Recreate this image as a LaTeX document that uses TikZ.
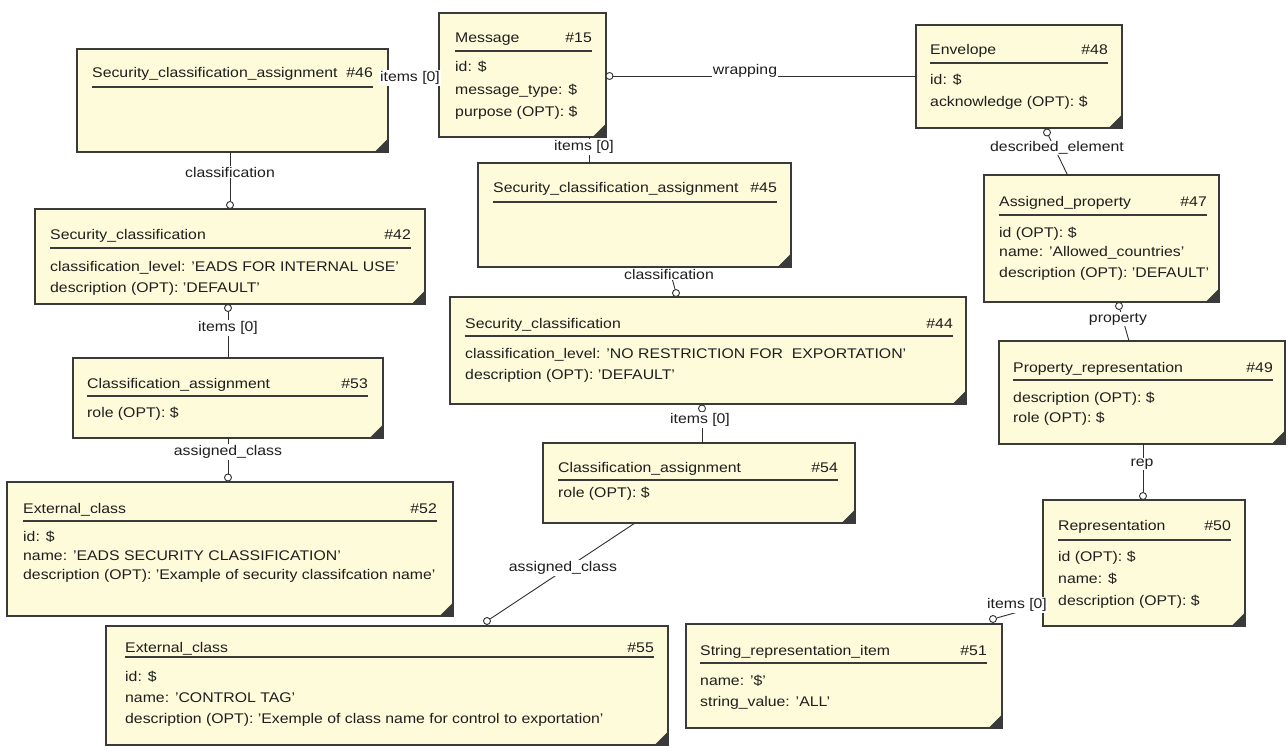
\documentclass[tikz,border=0pt]{standalone}
\usepackage{fontspec}
\setmainfont[FakeStretch=1.13]{Liberation Sans}
\definecolor{boxfill}{HTML}{FDFBDA}
\definecolor{boxline}{HTML}{3A3A3A}
\definecolor{txt}{HTML}{1E1E1E}
\definecolor{lnk}{HTML}{303030}
\newcommand\ertext{\fontsize{14}{16}\selectfont}
% entity box: name, left, top, right, bottom
\newcommand\entbox[5]{%
  \node[ent, minimum width={#4-#2}, minimum height={#5-#3}] (#1) at ({(#2+#4)/2},{(#3+#5)/2}) {};
  \fill[boxline] ([xshift=0.6pt,yshift=-0.6pt]#1.south east) -- ++(-14.6,0) -- ++(14.6,-14.6) -- cycle;
}
% title line: name, left x, baseline y, title, right x, number, underline y
\newcommand\enttitle[7]{%
  \node[ttl] (#1-t) at (#2,#3) {#4};
  \node[num] (#1-n) at (#5,#3) {#6};
  \draw[uline] (#2,#7) -- (#5,#7);
}
\tikzset{
  ent/.style={draw=boxline, fill=boxfill, line width=1.3pt, inner sep=0pt, outer sep=0pt},
  ttl/.style={anchor=base west, inner sep=0pt, text=txt, font=\ertext},
  num/.style={anchor=base east, inner sep=0pt, text=txt, font=\ertext},
  attr/.style={anchor=base west, inner sep=0pt, text=txt, font=\ertext},
  uline/.style={draw=boxline, line width=1.6pt},
  lbl/.style={fill=white, inner sep=1pt, text=txt, font=\ertext},
  knob/.style={circle, draw=lnk, fill=white, minimum size=7pt, inner sep=0pt, line width=0.9pt},
  link/.style={draw=lnk, line width=0.9pt}
}
\begin{document}
\begin{tikzpicture}[x=1pt,y=-1pt]
\useasboundingbox[fill=white] (0,0) rectangle (1288,746);

% ---------- entity boxes ----------
\entbox{e46}{77}{49}{388}{152}
\enttitle{e46}{92}{78}{Security\_classification\_assignment}{373}{\#46}{87}

\entbox{e15}{439}{13}{606}{137}
\enttitle{e15}{455}{43}{Message}{592}{\#15}{51}
\node[attr] (e15-a1) at (455,72) {id: \$};
\node[attr] (e15-a2) at (455,95) {message\_type: \$};
\node[attr] (e15-a3) at (455,117) {purpose (OPT): \$};

\entbox{e48}{916}{25}{1122}{128}
\enttitle{e48}{930}{55}{Envelope}{1108}{\#48}{63}
\node[attr] (e48-a1) at (930,85) {id: \$};
\node[attr] (e48-a2) at (930,107) {acknowledge (OPT): \$};

\entbox{e45}{478}{163}{791}{267}
\enttitle{e45}{493}{193}{Security\_classification\_assignment}{777}{\#45}{202}

\entbox{e42}{35}{209}{425}{304}
\enttitle{e42}{50}{240}{Security\_classification}{411}{\#42}{248}
\node[attr] (e42-a1) at (50,271) {classification\_level: 'EADS FOR INTERNAL USE'};
\node[attr] (e42-a2) at (50,292) {description (OPT): 'DEFAULT'};

\entbox{e53}{73}{358}{383}{438}
\enttitle{e53}{87}{388}{Classification\_assignment}{368}{\#53}{396}
\node[attr] (e53-a1) at (87,417) {role (OPT): \$};

\entbox{e52}{7}{482}{453}{616}
\enttitle{e52}{23}{513}{External\_class}{437}{\#52}{521}
\node[attr] (e52-a1) at (23,541) {id: \$};
\node[attr] (e52-a2) at (23,560) {name: 'EADS SECURITY CLASSIFICATION'};
\node[attr] (e52-a3) at (23,579) {description (OPT): 'Example of security classifcation name'};

\entbox{e44}{450}{297}{966}{404}
\enttitle{e44}{465}{328}{Security\_classification}{953}{\#44}{336}
\node[attr] (e44-a1) at (465,358) {classification\_level: 'NO RESTRICTION FOR\ \ EXPORTATION'};
\node[attr] (e44-a2) at (465,379) {description (OPT): 'DEFAULT'};

\entbox{e54}{543}{443}{855}{523}
\enttitle{e54}{558}{472}{Classification\_assignment}{838}{\#54}{480}
\node[attr] (e54-a1) at (558,497) {role (OPT): \$};

\entbox{e55}{106}{626}{668}{745}
\enttitle{e55}{125}{652}{External\_class}{654}{\#55}{657}
\node[attr] (e55-a1) at (125,681) {id: \$};
\node[attr] (e55-a2) at (125,702) {name: 'CONTROL TAG'};
\node[attr] (e55-a3) at (125,723) {description (OPT): 'Exemple of class name for control to exportation'};

\entbox{e51}{686}{624}{1002}{728}
\enttitle{e51}{700}{655}{String\_representation\_item}{987}{\#51}{663}
\node[attr] (e51-a1) at (700,685) {name: '\$'};
\node[attr] (e51-a2) at (700,706) {string\_value: 'ALL'};

\entbox{e50}{1043}{500}{1245}{626}
\enttitle{e50}{1058}{530}{Representation}{1231}{\#50}{540}
\node[attr] (e50-a1) at (1058,561) {id (OPT): \$};
\node[attr] (e50-a2) at (1058,583) {name: \$};
\node[attr] (e50-a3) at (1058,605) {description (OPT): \$};

\entbox{e47}{984}{175}{1219}{302}
\enttitle{e47}{999}{207}{Assigned\_property}{1207}{\#47}{215}
\node[attr] (e47-a1) at (999,237) {id (OPT): \$};
\node[attr] (e47-a2) at (999,257) {name: 'Allowed\_countries'};
\node[attr] (e47-a3) at (999,277) {description (OPT): 'DEFAULT'};

\entbox{e49}{999}{341}{1285}{444}
\enttitle{e49}{1013}{372}{Property\_representation}{1273}{\#49}{380}
\node[attr] (e49-a1) at (1013,402) {description (OPT): \$};
\node[attr] (e49-a2) at (1013,422) {role (OPT): \$};

% ---------- connectors ----------
% Security_classification_assignment #46 -- Message
\coordinate (r1) at (410,78);
\draw[link] (e46.east |- r1) -- (e15.west |- r1);
\node[lbl] (l1) at (r1) {items [0]};

% #46 -> Security_classification #42
\node[knob] (k42a) at (230,205) {};
\draw[link] (e46.south -| k42a) -- (k42a);
\node[lbl] (l2) at (230,172) {classification};

% #42 -> Classification_assignment #53
\node[knob] (k42b) at (228,308) {};
\draw[link] (k42b) -- (e53.north -| k42b);
\node[lbl] (l3) at (228,328) {items [0]};

% #53 -> External_class #52
\node[knob] (k52) at (228,477.5) {};
\draw[link] (e53.south -| k52) -- (k52);
\node[lbl] (l4) at (228,452) {assigned\_class};

% Message -> Envelope
\node[knob] (k15) at (609.5,76) {};
\draw[link] (k15) -- (e48.west |- k15);
\node[lbl, inner sep=0.5pt] (l5) at (745,71) {wrapping};

% Message -> #45
\coordinate (r6) at (589,147);
\draw[link] (e15.south -| r6) -- (e45.north -| r6);
\node[lbl] (l6) at (584,147) {items [0]};

% #45 -> Security_classification #44
\node[knob] (k44a) at (676,293) {};
\coordinate (r7) at (669,274);
\draw[link] (e45.south -| r7) -- (k44a);
\node[lbl] (l7) at (r7) {classification};

% #44 -> Classification_assignment #54
\node[knob] (k44b) at (702,408.5) {};
\draw[link] (k44b) -- (e54.north -| k44b);
\node[lbl] (l8) at (700,420) {items [0]};

% #54 -> External_class #55
\node[knob] (k55) at (487,621) {};
\draw[link] ([xshift=-64pt]e54.south) -- (k55);
\node[lbl] (l9) at (563,568) {assigned\_class};

% Envelope -> Assigned_property
\node[knob] (k48) at (1047,132.5) {};
\draw[link] (k48) -- ([xshift=-34pt]e47.north);
\node[lbl] (l10) at (1057,148) {described\_element};

% Assigned_property -> Property_representation
\node[knob] (k47) at (1119,306) {};
\draw[link] (k47) -- ([xshift=-13pt]e49.north);
\node[lbl] (l11) at (1118,319) {property};

% Property_representation -> Representation
\node[knob] (k50) at (1143,496) {};
\draw[link] (e49.south -| k50) -- (k50);
\node[lbl] (l12) at (1142,464) {rep};

% Representation -> String_representation_item
\node[knob] (k51) at (993,619) {};
\coordinate (r13) at (1017,605);
\draw[link] (k51) -- (e50.west |- r13);
\node[lbl] (l13) at (r13) {items [0]};
\end{tikzpicture}
\end{document}
